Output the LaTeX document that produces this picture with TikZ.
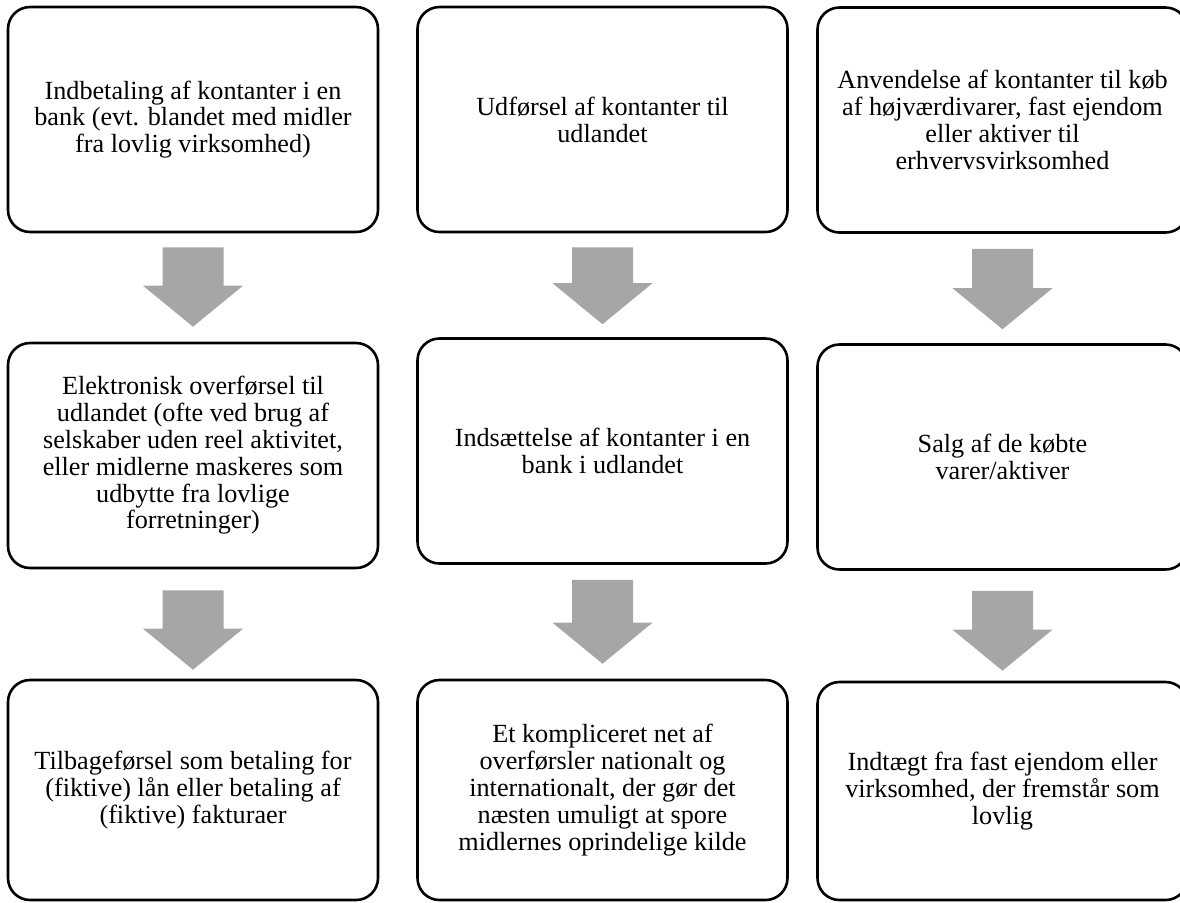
\documentclass[tikz,border=0pt]{standalone}
\usepackage{fontspec}
\setmainfont{Liberation Serif}
\usepackage{xcolor}
\usetikzlibrary{calc}
\definecolor{arrowgray}{HTML}{A6A6A6}

% fat grey arrow between two boxes: from, to, gap below from, gap above to
\newcommand{\blockarrow}[4]{%
  \fill[arrowgray] let \p1=($(#1.south)+(0,#3)$), \p2=($(#2.north)-(0,#4)$) in
    (\x1-15.25pt,\y1) -- (\x1+15.25pt,\y1) -- (\x1+15.25pt,\y2+20.5pt) -- (\x1+25pt,\y2+20.5pt)
    -- (\x1,\y2) -- (\x1-25pt,\y2+20.5pt) -- (\x1-15.25pt,\y2+20.5pt) -- cycle;}

\begin{document}
\begin{tikzpicture}[x=0.5pt,y=-0.5pt,every node/.style={font=\fontsize{13.1}{13.4}\selectfont}]
      \tikzstyle{fb}=[rectangle,draw,line width=1.3pt,rounded corners=11pt,align=center,
                      minimum width=185pt,minimum height=112.5pt,inner sep=0pt,fill=white];
      \tikzstyle{fblow}=[fb,minimum height=110pt];
      \useasboundingbox (0,0) rectangle (1180,902);
      % first column
      \node[fb] (a1) at (193,119.5) {Indbetaling af kontanter i en\\bank (evt. blandet med midler\\fra lovlig virksomhed)};
      \node[fb] (a2) at (193,455.5) {Elektronisk overførsel til\\udlandet (ofte ved brug af\\selskaber uden reel aktivitet,\\eller midlerne maskeres som\\udbytte fra lovlige\\forretninger)};
      \node[fblow] (a3) at (193,790) {Tilbageførsel som betaling for\\(fiktive) lån eller betaling af\\(fiktive) fakturaer};
      % second column
      \node[fb] (b1) at (602.5,119.5) {Udførsel af kontanter til\\udlandet};
      \node[fb] (b2) at (602.5,451) {Indsættelse af kontanter i en\\bank i udlandet};
      \node[fblow] (b3) at (602.5,790) {Et kompliceret net af\\overførsler nationalt og\\internationalt, der gør det\\næsten umuligt at spore\\midlernes oprindelige kilde};
      % third column
      \node[fb] (c1) at (1002.5,120) {Anvendelse af kontanter til køb\\af højværdivarer, fast ejendom\\eller aktiver til\\erhvervsvirksomhed};
      \node[fb] (c2) at (1002.5,457) {Salg af de købte\\varer/aktiver};
      \node[fblow,minimum height=109pt] (c3) at (1002.5,791) {Indtægt fra fast ejendom eller\\virksomhed, der fremstår som\\lovlig};
      \foreach \s/\t/\g/\h in {a1/a2/14/15,a2/a3/21/9,b1/b2/14/13,b2/b3/15/15,c1/c2/15/14,c2/c3/20/10}
        \blockarrow{\s}{\t}{\g}{\h};
    \end{tikzpicture}
\end{document}
